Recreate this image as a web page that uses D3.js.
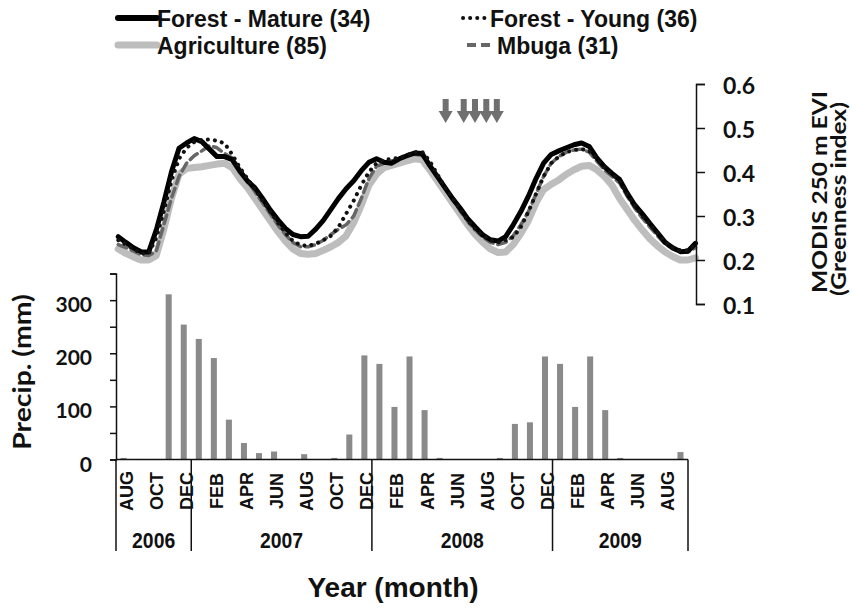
<!DOCTYPE html>
<html>
<head>
<meta charset="utf-8">
<script src="https://cdn.jsdelivr.net/npm/d3@7"></script>
<style>
  body { margin: 0; background: #fff; }
  svg { display: block; }
</style>
</head>
<body>
<svg id="chart" width="852" height="610"></svg>
<script>
// monthly precipitation, Aug 2006 .. Sep 2009
const months = ["AUG","SEP","OCT","NOV","DEC",
  "JAN","FEB","MAR","APR","MAY","JUN","JUL","AUG","SEP","OCT","NOV","DEC",
  "JAN","FEB","MAR","APR","MAY","JUN","JUL","AUG","SEP","OCT","NOV","DEC",
  "JAN","FEB","MAR","APR","MAY","JUN","JUL","AUG","SEP"];
const yearLabels = ["2006", "2007", "2008", "2009"];
const monthsPerYear = [5, 12, 12, 9];
const precip = [3, 1, 1, 311, 254,
  227, 191, 75, 31, 12, 15, 0, 10, 0, 3, 47, 196,
  180, 99, 194, 93, 3, 0, 0, 0, 3, 67, 70, 194,
  180, 99, 194, 93, 3, 0, 0, 0, 14];
const precipTicks = [0, 50, 100, 150, 200, 250, 300, 350];

// MODIS composites, position in months after Aug 2006 (mid-month = 0)
const eviMonths = d3.range(77).map(i => -0.35 + i * 0.5046);
const eviMature = [0.253,0.240,0.228,0.219,0.218,0.268,0.331,0.400,0.454,0.466,
  0.476,0.469,0.452,0.435,0.435,0.428,0.402,0.380,0.364,0.340,
  0.314,0.292,0.272,0.258,0.253,0.254,0.270,0.290,0.315,0.340,
  0.362,0.380,0.403,0.422,0.430,0.422,0.420,0.430,0.437,0.443,
  0.442,0.415,0.390,0.365,0.340,0.318,0.294,0.275,0.257,0.246,
  0.243,0.253,0.280,0.310,0.345,0.385,0.420,0.440,0.448,0.455,
  0.462,0.466,0.458,0.432,0.412,0.397,0.383,0.352,0.325,0.305,
  0.283,0.262,0.240,0.228,0.219,0.220,0.238];
const eviYoung = [0.245,0.235,0.225,0.215,0.215,0.250,0.310,0.380,0.430,0.455,
  0.468,0.473,0.474,0.471,0.465,0.440,0.410,0.385,0.360,0.335,
  0.310,0.285,0.262,0.243,0.234,0.232,0.237,0.245,0.255,0.275,
  0.305,0.335,0.370,0.400,0.420,0.428,0.430,0.432,0.438,0.445,
  0.446,0.425,0.395,0.365,0.340,0.315,0.290,0.270,0.255,0.245,
  0.240,0.245,0.252,0.275,0.310,0.350,0.390,0.420,0.435,0.445,
  0.450,0.452,0.448,0.430,0.410,0.395,0.380,0.350,0.323,0.300,
  0.280,0.260,0.240,0.228,0.222,0.222,0.235];
const eviAgri = [0.225,0.215,0.207,0.200,0.200,0.210,0.270,0.340,0.395,0.408,
  0.410,0.412,0.415,0.418,0.420,0.410,0.385,0.365,0.340,0.315,
  0.290,0.265,0.243,0.225,0.215,0.213,0.215,0.222,0.230,0.240,
  0.255,0.285,0.325,0.370,0.395,0.410,0.415,0.420,0.425,0.430,
  0.428,0.405,0.380,0.355,0.330,0.305,0.280,0.258,0.240,0.225,
  0.217,0.218,0.235,0.260,0.290,0.330,0.360,0.372,0.382,0.395,
  0.405,0.413,0.415,0.405,0.390,0.370,0.340,0.315,0.290,0.268,
  0.248,0.232,0.218,0.208,0.200,0.200,0.205];
const eviMbuga = [0.235,0.228,0.220,0.212,0.210,0.220,0.280,0.340,0.390,0.420,
  0.437,0.448,0.460,0.455,0.442,0.432,0.405,0.380,0.355,0.330,
  0.305,0.280,0.258,0.240,0.230,0.230,0.235,0.245,0.258,0.270,
  0.280,0.300,0.340,0.385,0.413,0.420,0.425,0.430,0.437,0.440,
  0.438,0.415,0.390,0.363,0.338,0.312,0.288,0.268,0.252,0.240,
  0.235,0.240,0.255,0.280,0.310,0.350,0.390,0.420,0.435,0.445,
  0.450,0.452,0.445,0.425,0.405,0.390,0.375,0.345,0.318,0.295,
  0.275,0.255,0.237,0.225,0.218,0.218,0.228];
const eviTicks = [0.1, 0.2, 0.3, 0.4, 0.5, 0.6];
const legendNames = ["Forest - Mature (34)", "Forest - Young (36)", "Agriculture (85)", "Mbuga (31)"];

// sampling dates (arrows), in the same month units
const arrowMonths = [21.4, 22.6, 23.35, 24.1, 24.8];

const svg = d3.select("#chart");
const numFont = "Lato, 'Open Sans', sans-serif";
const arial = "Arial, 'Liberation Sans', sans-serif";

const xBand = d3.scaleBand().domain(d3.range(months.length)).range([116, 688]);
const xm = d3.scaleLinear().domain([-0.5, months.length - 0.5]).range([116, 688]);
const yP = d3.scaleLinear().domain([0, 350]).range([459.5, 273.6]);
const yE = d3.scaleLinear().domain([0.1, 0.6]).range([304, 84]);

// bars
svg.append("g").selectAll("rect").data(precip).join("rect")
  .attr("x", (d, i) => xBand(i) + xBand.bandwidth() * 0.3)
  .attr("width", xBand.bandwidth() * 0.4)
  .attr("y", d => yP(d))
  .attr("height", d => yP(0) - yP(d))
  .attr("fill", "#8a8a8a");

// left axis
const gl = svg.append("g").attr("transform", "translate(116,0)")
  .call(d3.axisLeft(yP).tickValues(precipTicks).tickSize(6).tickPadding(18)
    .tickFormat(d => d % 100 === 0 ? d : ""));
gl.selectAll("path, line").attr("stroke", "#111").attr("stroke-width", 1.5);
gl.selectAll("text").attr("font-family", numFont).attr("font-weight", "bold")
  .attr("font-size", 21).attr("fill", "#111").attr("dy", "0.55em");

// category axis: baseline, year dividers, labels
svg.append("line").attr("x1", 116).attr("x2", 688).attr("y1", yP(0)).attr("y2", yP(0))
  .attr("stroke", "#111").attr("stroke-width", 1.5);
const yearStarts = d3.cumsum([0, ...monthsPerYear]);
svg.append("g").selectAll("line").data(yearStarts).join("line")
  .attr("x1", d => d < months.length ? xBand(d) : 688)
  .attr("x2", d => d < months.length ? xBand(d) : 688)
  .attr("y1", yP(0)).attr("y2", 551)
  .attr("stroke", "#111").attr("stroke-width", 1.5);
svg.append("g").selectAll("text").data(months.map((m, i) => ({ m, i })).filter(d => d.i % 2 === 0))
  .join("text")
  .attr("transform", d => `translate(${xBand(d.i) + xBand.bandwidth() / 2 + 3},491) rotate(-90)`)
  .attr("text-anchor", "middle").attr("dominant-baseline", "central")
  .attr("font-family", arial).attr("font-weight", "bold").attr("font-size", 18).attr("fill", "#111")
  .text(d => d.m);
svg.append("g").selectAll("text").data(yearLabels).join("text")
  .attr("transform", (d, i) => {
    const a = xBand(yearStarts[i]);
    const b = yearStarts[i + 1] < months.length ? xBand(yearStarts[i + 1]) : 688;
    return `translate(${(a + b) / 2},548) scale(0.88,1)`;
  })
  .attr("text-anchor", "middle")
  .attr("font-family", arial).attr("font-weight", "bold")
  .attr("font-size", 22).attr("fill", "#111")
  .text(d => d);

// EVI lines
const series = [
  { v: eviAgri, stroke: "#bdbdbd", w: 7, dash: null },
  { v: eviMbuga, stroke: "#666", w: 3.5, dash: "9 5" },
  { v: eviMature, stroke: "#000", w: 5, dash: null },
  { v: eviYoung, stroke: "#111", w: 4, dash: "0.1 7" }
];
const line = d3.line().x(d => xm(d[0])).y(d => yE(d[1]));
svg.append("g").selectAll("path").data(series).join("path")
  .attr("d", s => line(eviMonths.map((m, i) => [m, s.v[i]])))
  .attr("fill", "none")
  .attr("stroke", s => s.stroke)
  .attr("stroke-width", s => s.w)
  .attr("stroke-dasharray", s => s.dash)
  .attr("stroke-linecap", "round")
  .attr("stroke-linejoin", "round");

// right axis
const gr = svg.append("g").attr("transform", "translate(696,0)")
  .call(d3.axisRight(yE).tickValues(eviTicks).tickSize(9).tickPadding(18).tickFormat(d3.format(".1f")));
gr.selectAll("path, line").attr("stroke", "#111").attr("stroke-width", 1.5);
gr.selectAll("text").attr("font-family", numFont).attr("font-weight", "bold")
  .attr("font-size", 23).attr("fill", "#111").attr("dy", "0.42em");

// arrows
svg.append("g").selectAll("path").data(arrowMonths).join("path")
  .attr("d", m => {
    const x = xm(m);
    return `M${x - 3},99 L${x + 3},99 L${x + 3},111 L${x + 7},111 L${x},123 L${x - 7},111 L${x - 3},111 Z`;
  })
  .attr("fill", "#707070");

// titles
svg.append("text").attr("transform", "translate(31,372) rotate(-90) scale(1.18,1)")
  .attr("text-anchor", "middle").attr("font-family", numFont).attr("font-weight", "bold")
  .attr("font-size", 24).attr("fill", "#111").text("Precip. (mm)");
svg.append("text").attr("transform", "translate(827,192) rotate(-90) scale(1.17,1)")
  .attr("text-anchor", "middle").attr("font-family", numFont).attr("font-weight", "bold")
  .attr("font-size", 21).attr("fill", "#111").text("MODIS 250 m EVI");
svg.append("text").attr("transform", "translate(846,199) rotate(-90) scale(1.17,1)")
  .attr("text-anchor", "middle").attr("font-family", numFont).attr("font-weight", "bold")
  .attr("font-size", 21).attr("fill", "#111").text("(Greenness index)");
svg.append("text").attr("x", 393).attr("y", 597).attr("text-anchor", "middle")
  .attr("font-family", arial).attr("font-weight", "bold").attr("font-size", 28).attr("fill", "#111")
  .text("Year (month)");

// legend
const legendPos = [
  { x1: 118, x2: 157, tx: 157, y: 18 },
  { x1: 463, x2: 489, tx: 490, y: 18 },
  { x1: 118, x2: 157, tx: 157, y: 45 },
  { x1: 467, x2: 490, tx: 497, y: 45 }
];
const legendStyle = [
  { stroke: "#000", w: 6, dash: null, cap: "round" },
  { stroke: "#111", w: 4, dash: "0.1 7", cap: "round" },
  { stroke: "#bdbdbd", w: 7, dash: null, cap: "round" },
  { stroke: "#666", w: 4, dash: "9 5", cap: "butt" }
];
const lg = svg.append("g").selectAll("g").data(legendNames).join("g");
lg.append("line")
  .attr("x1", (d, i) => legendPos[i].x1).attr("x2", (d, i) => legendPos[i].x2)
  .attr("y1", (d, i) => legendPos[i].y).attr("y2", (d, i) => legendPos[i].y)
  .attr("stroke", (d, i) => legendStyle[i].stroke)
  .attr("stroke-width", (d, i) => legendStyle[i].w)
  .attr("stroke-dasharray", (d, i) => legendStyle[i].dash)
  .attr("stroke-linecap", (d, i) => legendStyle[i].cap);
lg.append("text")
  .attr("x", (d, i) => legendPos[i].tx).attr("y", (d, i) => legendPos[i].y + 9)
  .attr("font-family", arial).attr("font-weight", "bold").attr("font-size", 23).attr("fill", "#111")
  .text(d => d);
</script>
</body>
</html>
